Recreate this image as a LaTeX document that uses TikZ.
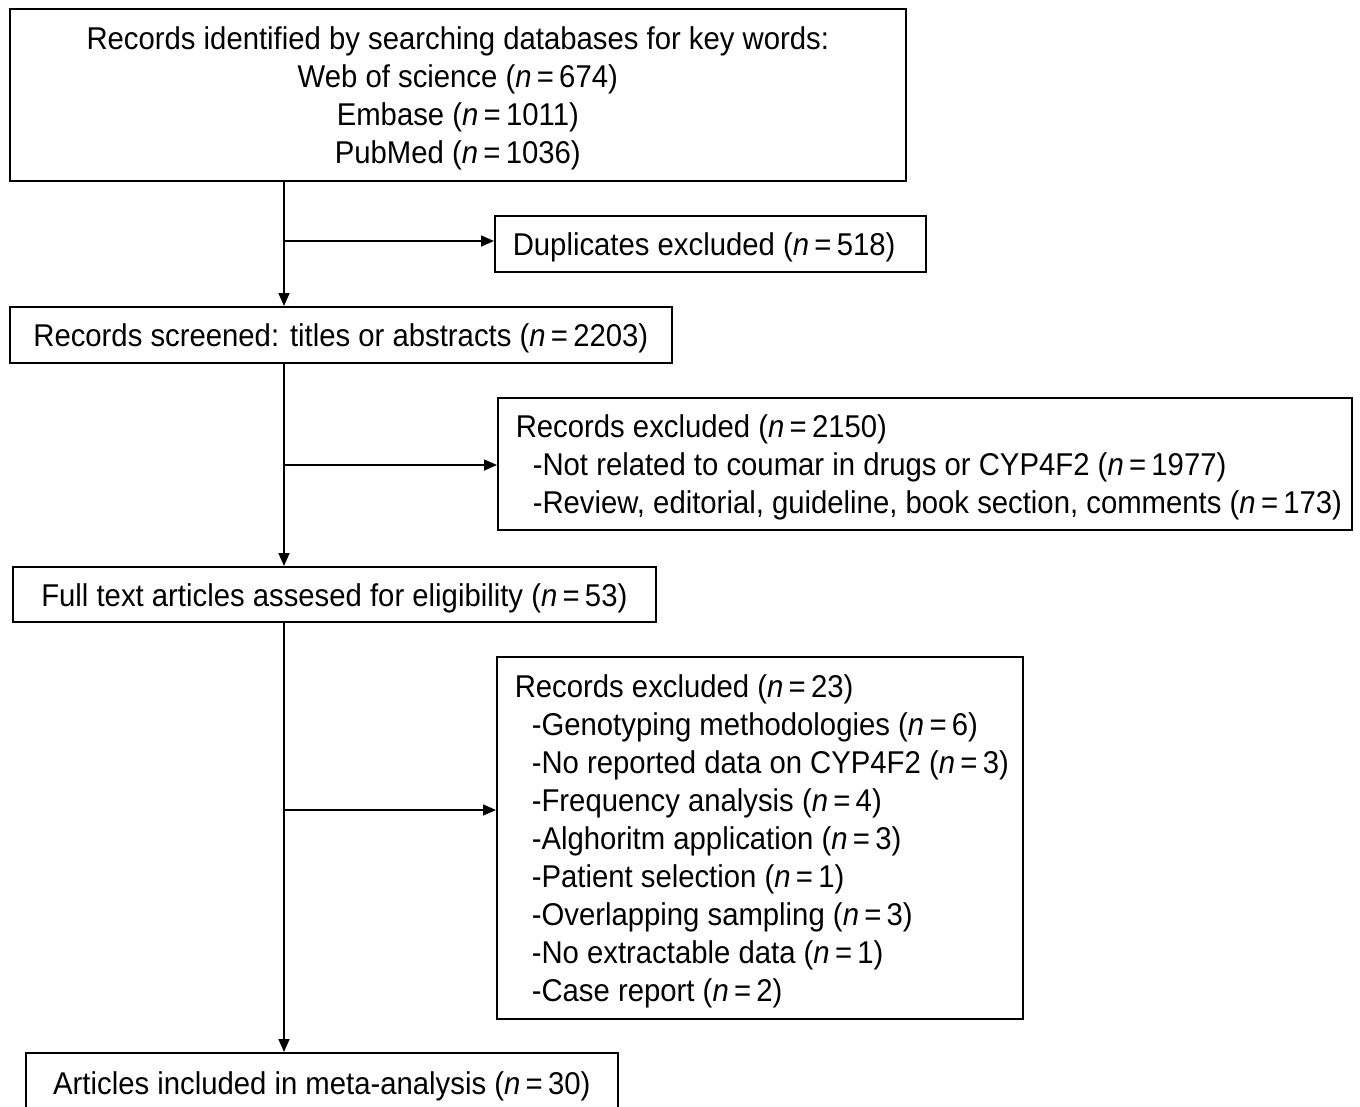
\documentclass[tikz,border=0pt]{standalone}
\usepackage{fontspec}
\setmainfont[FakeStretch=0.93]{Liberation Sans}
\usetikzlibrary{arrows.meta}

\newcommand{\ncount}[1]{(\textit{n}\,=\,#1)}
\newcommand{\itm}[1]{\mbox{\hspace*{17pt}#1}}

\begin{document}
\begin{tikzpicture}[x=1pt,y=-1pt,
  box/.style={draw,line width=1.6pt,anchor=north west,inner sep=0pt,
    font=\fontsize{31.5}{38}\selectfont,
    execute at begin node={\spaceskip=\fontdimen2\font\rule{0pt}{30pt}}},
  flow/.style={line width=1.6pt,-{Triangle[length=13pt,width=11pt]}}]

\useasboundingbox (0,0) rectangle (1360,1106);

% Boxes
\node[box,minimum width=896pt,minimum height=172pt,text width=860pt,align=center] (rec) at (9,8)
  {Records identified by searching databases for key words:\\
   Web of science \ncount{674}\\
   Embase \ncount{1011}\\
   PubMed \ncount{1036}};

\node[box,minimum height=56pt,text width=395pt,inner xsep=18pt,align=left] (dup) at (494,215)
  {Duplicates excluded \ncount{518}};

\node[box,minimum width=662pt,minimum height=56pt] (scr) at (9,306)
  {Records screened: titles or abstracts \ncount{2203}};

\node[box,minimum height=132pt,text width=818pt,inner xsep=18pt,align=left] (exa) at (497,397)
  {Records excluded \ncount{2150}\\
   \itm{-Not related to coumar in drugs or CYP4F2 \ncount{1977}}\\
   \itm{-Review, editorial, guideline, book section, comments \ncount{173}}};

\node[box,minimum width=643pt,minimum height=55pt] (ful) at (12,566)
  {Full text articles assesed for eligibility \ncount{53}};

\node[box,minimum height=362pt,text width=490pt,inner xsep=18pt,align=left] (exb) at (496,656)
  {Records excluded \ncount{23}\\
   \itm{-Genotyping methodologies \ncount{6}}\\
   \itm{-No reported data on CYP4F2 \ncount{3}}\\
   \itm{-Frequency analysis \ncount{4}}\\
   \itm{-Alghoritm application \ncount{3}}\\
   \itm{-Patient selection \ncount{1}}\\
   \itm{-Overlapping sampling \ncount{3}}\\
   \itm{-No extractable data \ncount{1}}\\
   \itm{-Case report \ncount{2}}};

\node[box,minimum width=592pt,minimum height=60pt,execute at begin node={}] (inc) at (25,1052)
  {Articles included in meta-analysis \ncount{30}};

% Spine and branch points
\coordinate (spine) at (284,0);
\coordinate (ba) at (284,241);
\coordinate (bb) at (284,465);
\coordinate (bc) at (284,810);

% Arrows
\draw[flow] (rec.south -| spine) -- (scr.north -| spine);
\draw[flow] (scr.south -| spine) -- (ful.north -| spine);
\draw[flow] (ful.south -| spine) -- (inc.north -| spine);
\draw[flow] (ba) -- (ba -| dup.west);
\draw[flow] (bb) -- (bb -| exa.west);
\draw[flow] (bc) -- (bc -| exb.west);

\end{tikzpicture}
\end{document}
